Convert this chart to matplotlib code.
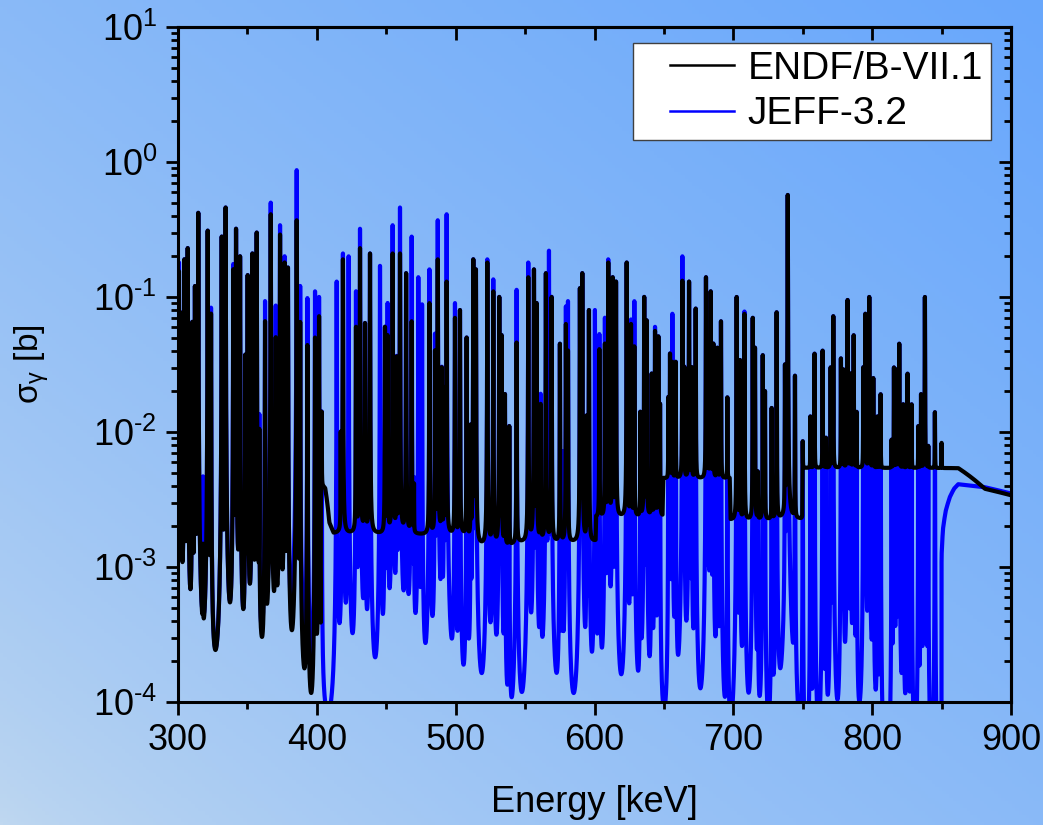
import numpy as np
import matplotlib
matplotlib.use('Agg')
import matplotlib.pyplot as plt
from matplotlib.lines import Line2D
from matplotlib.legend_handler import HandlerLine2D
from matplotlib.ticker import AutoMinorLocator, NullFormatter, FuncFormatter

plt.rcParams['font.family'] = ['Liberation Sans', 'DejaVu Sans']
plt.rcParams['mathtext.fontset'] = 'custom'
plt.rcParams['mathtext.rm'] = 'Liberation Sans'
plt.rcParams['mathtext.it'] = 'Liberation Sans:italic'
plt.rcParams['mathtext.bf'] = 'Liberation Sans:bold'
plt.rcParams['axes.unicode_minus'] = False

# resonance energies (keV) and peak cross sections (b)
res_energy = [
    300.7, 302.2, 304.6, 307.0, 310.3, 312.2, 314.6, 318.0, 321.4, 323.8,
    331.5, 334.3, 339.8, 341.8, 344.7, 348.5, 350.2, 353.6, 356.7, 358.6,
    362.7, 366.8, 370.4, 373.5, 376.8, 379.2, 385.5, 388.0, 393.2, 398.7,
    401.6, 403.5, 414.3, 417.2, 418.8, 422.9, 428.2, 431.1, 434.7, 438.3,
    445.5, 449.1, 451.0, 454.6, 457.5, 459.9, 464.3, 468.3, 470.0, 473.1,
    475.8, 481.1, 485.1, 487.1, 490.0, 491.6, 493.5, 499.5, 503.1, 507.9,
    510.8, 512.7, 514.6, 522.8, 527.1, 531.4, 533.1, 535.5, 538.6, 543.9,
    552.3, 556.4, 558.3, 561.2, 565.0, 567.2, 569.1, 575.1, 577.0, 579.4,
    580.9, 589.5, 591.2, 594.3, 596.0, 600.3, 603.5, 607.5, 609.9, 613.1,
    615.5, 623.2, 626.3, 628.7, 633.0, 635.8, 637.6, 641.2, 643.6, 646.0,
    647.2, 653.2, 654.4, 656.1, 658.5, 663.3, 664.7, 668.1, 670.0, 672.9,
    680.3, 682.0, 683.7, 685.6, 688.5, 691.1, 695.7, 702.4, 704.8, 708.0,
    714.0, 715.6, 717.6, 721.2, 722.8, 727.6, 731.2, 737.2, 739.2, 744.4,
    750.0, 755.5, 758.5, 764.3, 766.7, 770.1, 772.0, 777.5, 779.2, 782.3,
    784.5, 786.7, 788.8, 793.6, 795.1, 797.9, 800.8, 803.9, 806.1, 814.0,
    815.7, 817.6, 819.5, 822.4, 825.5, 828.4, 833.2, 835.2, 838.0, 840.4,
    845.2, 850.0,
]
peak_endf = [
    0.155, 0.076, 0.19, 0.23, 0.065, 0.12, 0.42, 0.0011, 0.31, 0.075,
    0.28, 0.46, 0.16, 0.32, 0.20, 0.037, 0.145, 0.21, 0.30, 0.010,
    0.066, 0.41, 0.05, 0.29, 0.18, 0.165, 0.37, 0.065, 0.044, 0.05,
    0.072, 0.014, 0.0, 0.0097, 0.19, 0.0, 0.06, 0.23, 0.064, 0.21,
    0.0, 0.06, 0.052, 0.21, 0.036, 0.21, 0.15, 0.066, 0.004, 0.0,
    0.0, 0.09, 0.04, 0.19, 0.03, 0.021, 0.13, 0.07, 0.08, 0.05,
    0.011, 0.19, 0.16, 0.18, 0.11, 0.10, 0.052, 0.019, 0.011, 0.046,
    0.14, 0.16, 0.09, 0.016, 0.15, 0.0, 0.10, 0.045, 0.0, 0.063,
    0.04, 0.116, 0.15, 0.013, 0.08, 0.0, 0.041, 0.045, 0.18, 0.14,
    0.13, 0.18, 0.063, 0.043, 0.014, 0.10, 0.067, 0.027, 0.056, 0.051,
    0.016, 0.018, 0.038, 0.033, 0.033, 0.132, 0.03, 0.13, 0.03, 0.082,
    0.14, 0.024, 0.11, 0.045, 0.042, 0.066, 0.018, 0.10, 0.034, 0.075,
    0.07, 0.042, 0.005, 0.037, 0.02, 0.015, 0.077, 0.031, 0.57, 0.026,
    0.0085, 0.013, 0.038, 0.04, 0.009, 0.03, 0.072, 0.035, 0.029, 0.095,
    0.027, 0.052, 0.014, 0.03, 0.075, 0.10, 0.025, 0.013, 0.019, 0.0087,
    0.03, 0.029, 0.045, 0.016, 0.027, 0.016, 0.011, 0.019, 0.10, 0.0078,
    0.014, 0.0083,
]
peak_jeff = [
    0.18, 0.076, 0.19, 0.23, 0.065, 0.12, 0.42, 0.0043, 0.31, 0.083,
    0.28, 0.46, 0.175, 0.32, 0.20, 0.037, 0.145, 0.21, 0.30, 0.013,
    0.093, 0.50, 0.086, 0.34, 0.20, 0.165, 0.87, 0.12, 0.098, 0.11,
    0.10, 0.014, 0.13, 0.0, 0.21, 0.20, 0.11, 0.32, 0.064, 0.21,
    0.17, 0.06, 0.09, 0.34, 0.036, 0.46, 0.15, 0.28, 0.004, 0.14,
    0.088, 0.16, 0.053, 0.37, 0.03, 0.021, 0.41, 0.09, 0.08, 0.05,
    0.011, 0.19, 0.16, 0.19, 0.135, 0.10, 0.052, 0.019, 0.011, 0.113,
    0.18, 0.16, 0.09, 0.019, 0.15, 0.22, 0.10, 0.045, 0.007, 0.085,
    0.093, 0.116, 0.15, 0.013, 0.08, 0.08, 0.053, 0.07, 0.19, 0.14,
    0.13, 0.18, 0.068, 0.093, 0.014, 0.10, 0.067, 0.027, 0.06, 0.051,
    0.016, 0.018, 0.038, 0.075, 0.033, 0.20, 0.03, 0.13, 0.03, 0.082,
    0.14, 0.024, 0.11, 0.045, 0.042, 0.066, 0.018, 0.10, 0.034, 0.078,
    0.07, 0.042, 0.005, 0.037, 0.02, 0.015, 0.077, 0.031, 0.57, 0.026,
    0.0085, 0.013, 0.038, 0.04, 0.009, 0.03, 0.072, 0.035, 0.029, 0.095,
    0.027, 0.052, 0.014, 0.03, 0.075, 0.10, 0.025, 0.013, 0.019, 0.0087,
    0.03, 0.029, 0.045, 0.016, 0.027, 0.016, 0.011, 0.019, 0.10, 0.0078,
    0.014, 0.0,
]
res_halfwidth = 0.07  # keV

# smooth (non-resonant) part of each evaluation
bg_energy_endf = [300, 402.8, 403.0, 406.0, 409.0, 412.0, 505.0, 515.0, 538.0,
                  545.0, 600.8, 601.2, 649.0, 649.6, 697.4, 698.0, 749.6, 750.2,
                  862.0, 881.0, 900.0]
bg_endf = [0, 0, 4.0e-3, 3.8e-3, 2.1e-3, 1.75e-3, 1.7e-3, 1.4e-3, 1.4e-3,
           1.5e-3, 1.5e-3, 2.3e-3, 2.35e-3, 4.5e-3, 4.5e-3, 2.2e-3, 2.25e-3, 5.4e-3,
           5.4e-3, 3.8e-3, 3.4e-3]
bg_energy_jeff = [300, 849.9, 850.0, 851.0, 853.0, 856.0, 859.0, 862.0, 881.0, 900.0]
bg_jeff = [0, 0, 1.2e-3, 1.9e-3, 2.6e-3, 3.3e-3, 3.8e-3, 4.1e-3, 3.9e-3, 3.5e-3]

energy = np.union1d(np.arange(300, 900.0001, 0.005), res_energy)


def cross_section(peaks, bg_e, bg_v):
    base = np.interp(energy, bg_e, bg_v)
    heights = np.clip(np.array(peaks) - np.interp(res_energy, bg_e, bg_v), 0, None)
    sig = base.copy()
    for e0, h in zip(res_energy, heights):
        if h > 0:
            sig += h / (1 + ((energy - e0) / res_halfwidth) ** 2)
    return sig


sig_endf = cross_section(peak_endf, bg_energy_endf, bg_endf)
sig_jeff = cross_section(peak_jeff, bg_energy_jeff, bg_jeff)

fig = plt.figure(figsize=(10.43, 8.25), dpi=100)

# blue gradient backdrop
bg_ax = fig.add_axes([0, 0, 1, 1])
gx, gy = np.meshgrid(np.linspace(0, 1, 300), np.linspace(0, 1, 240))
t = ((gx + gy) / 2) ** 0.7
light = np.array([192, 216, 240]) / 255
dark = np.array([104, 167, 252]) / 255
grad = light + (dark - light) * t[..., None]
bg_ax.imshow(grad, origin='lower', aspect='auto', extent=[0, 1, 0, 1])
bg_ax.axis('off')

ax = fig.add_axes([178 / 1043, 1 - 702 / 825, 833 / 1043, 675 / 825])
ax.patch.set_alpha(0)

ax.plot(energy, sig_jeff, color='#0000ff', lw=3.0, zorder=2)
ax.plot(energy, sig_endf, color='black', lw=3.0, zorder=3)

ax.set_yscale('log')
ax.set_xlim(300, 900)
ax.set_ylim(1e-4, 10)
ax.xaxis.set_minor_locator(AutoMinorLocator(2))


def pow10(v, pos):
    exp = int(round(np.log10(v)))
    return r'$\mathdefault{10^{%s}}$' % str(exp).replace('-', '\u2010')


ax.yaxis.set_major_formatter(FuncFormatter(pow10))

for sp in ax.spines.values():
    sp.set_linewidth(2.2)
ax.tick_params(which='both', direction='out', width=2, labelsize=26, pad=6)
ax.tick_params(which='major', length=9)
ax.tick_params(which='minor', length=5)

top = ax.secondary_xaxis('top')
top.xaxis.set_minor_locator(AutoMinorLocator(2))
top.tick_params(which='both', direction='in', width=2, labeltop=False)
top.tick_params(which='major', length=9)
top.tick_params(which='minor', length=5)
top.spines['top'].set_linewidth(2.2)

right = ax.secondary_yaxis('right')
right.yaxis.set_major_formatter(NullFormatter())
right.yaxis.set_minor_formatter(NullFormatter())
right.tick_params(which='both', direction='in', width=2, labelright=False)
right.tick_params(which='major', length=9)
right.tick_params(which='minor', length=5)
right.spines['right'].set_linewidth(2.2)

ax.set_xlabel('Energy [keV]', fontsize=26)
ax.xaxis.set_label_coords(0.5, -0.123)
ax.set_ylabel(r'$\mathrm{\sigma_{\gamma}}$ [b]', fontsize=24)
ax.yaxis.set_label_coords(-0.152, 0.5)

handles = [Line2D([], [], color='black', lw=1.8),
           Line2D([], [], color='#0000ff', lw=1.8)]
leg = ax.legend(handles, ['ENDF/B-VII.1', 'JEFF-3.2'], loc='upper right',
                bbox_to_anchor=(991 / 1043, 1 - 43 / 825), bbox_transform=fig.transFigure,
                borderaxespad=0, fontsize=28, fancybox=False, framealpha=1,
                edgecolor='#404040', borderpad=0.2, labelspacing=0.25,
                handlelength=2.4, handletextpad=0.35,
                handler_map={Line2D: HandlerLine2D(xpad=0.75)})
leg.get_frame().set_linewidth(1.0)
leg.set_zorder(5)

fig.savefig('out.png', dpi=100)
